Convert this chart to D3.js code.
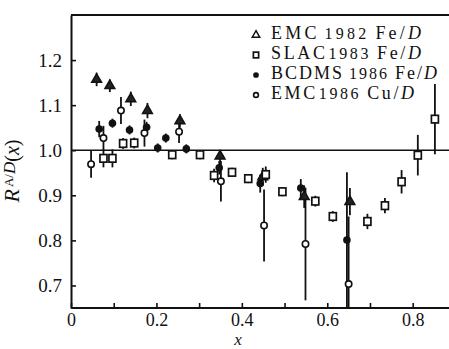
<!DOCTYPE html>
<html>
<head>
<meta charset="utf-8">
<title>R A/D (x)</title>
<style>
  body { margin: 0; background: #fff; }
  svg text { font-family: "Liberation Serif", "DejaVu Serif", serif; fill: #111; }
</style>
</head>
<body>
<script src="https://cdn.jsdelivr.net/npm/d3@7/dist/d3.min.js"></script>
<script>
// values

// EMC 1982 Fe/D (triangles)
var emc82X   = [0.060, 0.091, 0.140, 0.179, 0.255, 0.349, 0.449, 0.546, 0.653];
var emc82R   = [1.157, 1.143, 1.114, 1.088, 1.065, 0.987, 0.941, 0.897, 0.886];
var emc82Err = [0.015, 0.014, 0.016, 0.017, 0.015, 0.013, 0.020, 0.025, 0.030];

// SLAC 1983 Fe/D (open squares)
var slacX   = [0.076, 0.097, 0.122, 0.148, 0.237, 0.302, 0.335, 0.377, 0.415, 0.456, 0.495, 0.572, 0.613, 0.694, 0.735, 0.774, 0.812, 0.852];
var slacR   = [0.982, 0.982, 1.015, 1.016, 0.990, 0.990, 0.944, 0.951, 0.937, 0.946, 0.908, 0.887, 0.853, 0.842, 0.877, 0.930, 0.989, 1.069];
var slacErr = [0.020, 0.020, 0.012, 0.012, 0.010, 0.010, 0.015, 0.010, 0.010, 0.018, 0.010, 0.012, 0.012, 0.017, 0.017, 0.026, 0.045, 0.078];

// BCDMS 1986 Fe/D (filled circles)
var bcdmsX   = [0.066, 0.097, 0.137, 0.177, 0.203, 0.222, 0.270, 0.347, 0.443, 0.538, 0.646];
var bcdmsR   = [1.047, 1.060, 1.045, 1.051, 1.005, 1.027, 1.003, 0.961, 0.926, 0.916, 0.801];
var bcdmsErr = [0.018, 0.010, 0.010, 0.012, 0.010, 0.010, 0.010, 0.015, 0.020, 0.020, 0.150];

// EMC 1986 Cu/D (open circles)
var emc86X   = [0.047, 0.076, 0.117, 0.172, 0.253, 0.351, 0.452, 0.549, 0.650];
var emc86R   = [0.969, 1.027, 1.088, 1.038, 1.041, 0.931, 0.833, 0.792, 0.703];
var emc86Err = [0.030, 0.027, 0.030, 0.030, 0.025, 0.045, 0.080, 0.125, 0.150];

var yTicks = [0.7, 0.8, 0.9, 1.0, 1.1, 1.2];
var xTicks = [0, 0.1, 0.2, 0.3, 0.4, 0.5, 0.6, 0.7, 0.8];
var xLabelTicks = [0, 0.2, 0.4, 0.6, 0.8];

var legendNames   = ["EMC", "SLAC", "BCDMS", "EMC"];
var legendYears   = ["1982", "1983", "1986", "1986"];
var legendTargets = ["Fe/", "Fe/", "Fe/", "Cu/"];
var legendShapes  = ["triangle", "square", "dot", "circle"];

// layout
var W = 449, H = 349;
var margin = {top: 15, right: 0, bottom: 41, left: 71},
    width = W - margin.left - margin.right,
    height = H - margin.top - margin.bottom;

var legendWidths = [150, 150, 166, 143];   // widths of the legend texts in the scan

var x = d3.scaleLinear().domain([0, 0.885]).range([0, width]);
var y = d3.scaleLinear().domain([0.65, 1.30]).range([height, 0]);

var svg = d3.select("body").append("svg")
    .attr("width", W)
    .attr("height", H)
    .style("display", "block")
  .append("g")
    .attr("transform", "translate(" + margin.left + "," + margin.top + ")");

function pack(xs, rs, es) {
  return xs.map(function(v, i) { return {x: v, r: rs[i], e: es[i]}; });
}

var series = [
  {shape: "triangle", data: pack(emc82X, emc82R, emc82Err)},
  {shape: "square",   data: pack(slacX, slacR, slacErr)},
  {shape: "circle",   data: pack(emc86X, emc86R, emc86Err)},
  {shape: "dot",      data: pack(bcdmsX, bcdmsR, bcdmsErr)}
];

// frame: top line, reference line at 1.0
svg.append("line")
  .attr("x1", 0).attr("x2", width)
  .attr("y1", 0).attr("y2", 0)
  .attr("stroke", "#111").attr("stroke-width", 2);

svg.append("line")
  .attr("x1", 0).attr("x2", width)
  .attr("y1", y(1.0)).attr("y2", y(1.0))
  .attr("stroke", "#111").attr("stroke-width", 1.6);

// axes
var yAxis = svg.append("g")
  .call(d3.axisLeft(y).tickValues(yTicks).tickSize(-5).tickSizeOuter(0)
        .tickPadding(9).tickFormat(d3.format(".1f")));

var xAxis = svg.append("g")
  .attr("transform", "translate(0," + height + ")")
  .call(d3.axisBottom(x).tickValues(xTicks).tickSize(-5).tickSizeOuter(0)
        .tickPadding(5)
        .tickFormat(function(d) {
          return xLabelTicks.indexOf(d) >= 0 ? (d === 0 ? "0" : d3.format(".1f")(d)) : "";
        }));

[yAxis, xAxis].forEach(function(g) {
  g.attr("font-family", null).attr("font-size", null);
  g.select(".domain").attr("stroke", "#111").attr("stroke-width", 2);
  g.selectAll(".tick line").attr("stroke", "#111").attr("stroke-width", 1.6);
  g.selectAll(".tick text").style("font-size", "19px").attr("fill", "#111");
});
xAxis.selectAll(".tick text").style("font-size", "18px");
xAxis.select(".domain").attr("d", "M0,0H" + width);

// error bars
var bars = svg.append("g").attr("id", "bars");
series.forEach(function(s) {
  bars.selectAll(null)
    .data(s.data)
    .enter().append("line")
    .attr("x1", function(d) { return x(d.x); })
    .attr("x2", function(d) { return x(d.x); })
    .attr("y1", function(d) { return y(Math.min(d.r + d.e, 1.30)); })
    .attr("y2", function(d) { return y(Math.max(d.r - d.e, 0.65)); })
    .attr("stroke", "#111")
    .attr("stroke-width", 1.8);
});

// markers
function drawMarker(g, shape, scale, inPlot) {
  if (shape === "triangle") {
    g.append("path")
      .attr("d", d3.symbol().type(d3.symbolTriangle).size(42 * scale * scale)())
      .attr("fill", inPlot ? "#222" : "#fff")
      .attr("stroke", "#111").attr("stroke-width", 1.5);
  } else if (shape === "square") {
    g.append("rect")
      .attr("x", -3.5 * scale).attr("y", -3.8 * scale)
      .attr("width", 7 * scale).attr("height", 7.6 * scale)
      .attr("fill", "#fff").attr("stroke", "#111").attr("stroke-width", 1.7);
  } else if (shape === "dot") {
    g.append("circle").attr("r", 3.8 * scale).attr("fill", "#111");
  } else {
    g.append("circle").attr("r", 3.2 * scale)
      .attr("fill", "#fff").attr("stroke", "#111").attr("stroke-width", 1.6);
  }
}

var marks = svg.append("g").attr("id", "marks");
series.forEach(function(s) {
  marks.selectAll(null)
    .data(s.data)
    .enter().append("g")
    .attr("transform", function(d) { return "translate(" + x(d.x) + "," + y(d.r) + ")"; })
    .each(function() { drawMarker(d3.select(this), s.shape, 1, true); });
});

// legend (absolute position 256, 39 for the first row)
var legend = svg.append("g").attr("id", "legend")
  .attr("transform", "translate(" + (256 - margin.left) + "," + (39 - margin.top) + ")");

legendNames.forEach(function(name, i) {
  var row = legend.append("g").attr("transform", "translate(0," + (i * 20) + ")");
  drawMarker(row.append("g").attr("transform", "translate(0,-4)"), legendShapes[i], 0.75, false);
  var t = row.append("text")
    .attr("x", 15).attr("y", 0)
    .attr("textLength", legendWidths[i])
    .attr("lengthAdjust", "spacing")
    .style("font-size", "18px");
  t.append("tspan").text(name);
  t.append("tspan")
    .attr("dx", (i === 0 || i === 2) ? 5 : 1)
    .style("font-size", "16px").text(legendYears[i]);
  t.append("tspan").attr("dx", 6).text(legendTargets[i]);
  t.append("tspan").style("font-style", "italic").text("D");
});

// y label: R^{A/D}(x)
var yl = svg.append("text")
  .attr("transform", "translate(" + (19 - margin.left) + "," + (171 - margin.top) + ") rotate(-90)")
  .attr("text-anchor", "middle")
  .style("font-size", "20px");
yl.append("tspan").style("font-style", "italic").style("font-size", "22px").text("R");
yl.append("tspan").attr("dx", 2).attr("dy", -6).style("font-size", "13px").text("A/");
yl.append("tspan").attr("dy", 2).style("font-size", "17px").style("font-style", "italic").text("D");
yl.append("tspan").attr("dy", 4).text("(");
yl.append("tspan").style("font-style", "italic").text("x");
yl.append("tspan").text(")");

// x label
svg.append("text")
  .attr("x", 238 - margin.left)
  .attr("y", 345 - margin.top)
  .attr("text-anchor", "middle")
  .style("font-size", "17px")
  .style("font-style", "italic")
  .text("x");
</script>
</body>
</html>
